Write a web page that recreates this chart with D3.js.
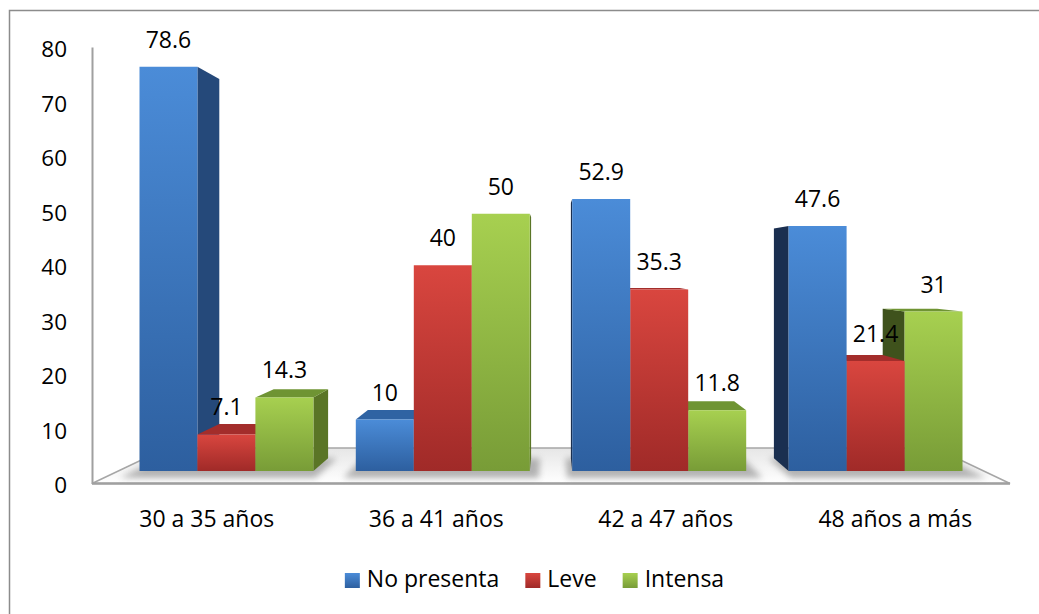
<!DOCTYPE html>
<html>
<head>
    <meta charset="utf-8">
    <title></title>
    <script src="https://cdnjs.cloudflare.com/ajax/libs/d3/7.8.5/d3.min.js"></script>
    <style>
        body { margin: 0; background: #fff; }
        text { font-family: "Open Sans", sans-serif; }
    </style>
</head>
<body>
<div id="chart"></div>
<script type="text/javascript">
    var categories = ["30 a 35 años", "36 a 41 años", "42 a 47 años", "48 años a más"];
    var seriesNames = ["No presenta", "Leve", "Intensa"];
    var noPresenta = [78.6, 10, 52.9, 47.6];
    var leve = [7.1, 40, 35.3, 21.4];
    var intensa = [14.3, 50, 11.8, 31];
    var yTicks = [0, 10, 20, 30, 40, 50, 60, 70, 80];

    var seriesValues = [noPresenta, leve, intensa];
    var colors = {
        "No presenta": { top: "#4b8cd8", bottom: "#2d5f9f", lid: "#2f63a3", right: "#25497a", left: "#1a2f50" },
        "Leve":        { top: "#d9463f", bottom: "#a02a28", lid: "#a32d2b", right: "#7e2220", left: "#661b1a" },
        "Intensa":     { top: "#a7d050", bottom: "#789c37", lid: "#6f9433", right: "#5a7526", left: "#3f521c" }
    };

    // perspective: everything is drawn in the front plane (s = 1) and pulled to the vanishing point
    var VP = { x: 551, y: 265 };
    var S_FRONT = 0.9428, S_BACK = 0.8845, S_FLOOR = 0.8375;
    function proj(X, Y, s) { return [VP.x + (X - VP.x) * s, VP.y + (Y - VP.y) * s]; }
    function poly(pts) { return pts.map(function(p){ return p[0].toFixed(1) + "," + p[1].toFixed(1); }).join(" "); }

    var svg = d3.select("#chart").append("svg")
        .attr("width", 1039)
        .attr("height", 614);

    var defs = svg.append("defs");
    seriesNames.forEach(function(name, i){
        var g = defs.append("linearGradient").attr("id", "grad" + i)
            .attr("x1", 0).attr("y1", 0).attr("x2", 0).attr("y2", 1);
        g.append("stop").attr("offset", "0%").attr("stop-color", colors[name].top);
        g.append("stop").attr("offset", "100%").attr("stop-color", colors[name].bottom);
    });
    var fg = defs.append("linearGradient").attr("id", "floorGrad")
        .attr("x1", 0).attr("y1", 0).attr("x2", 0).attr("y2", 1);
    fg.append("stop").attr("offset", "0%").attr("stop-color", "#e6e6e6");
    fg.append("stop").attr("offset", "100%").attr("stop-color", "#ffffff");
    defs.append("filter").attr("id", "blur").attr("x", "-20%").attr("y", "-50%").attr("width", "140%").attr("height", "200%")
        .append("feGaussianBlur").attr("stdDeviation", 3);

    // outer frame
    svg.append("rect")
        .attr("x", 9.5).attr("y", 10.5)
        .attr("width", 1100).attr("height", 700)
        .style("fill", "none")
        .style("stroke", "#8c8c8c")
        .style("stroke-width", 1.5);

    var x0 = d3.scaleBand().domain(categories).range([92, 1010]).paddingInner(0.196).paddingOuter(0.098);
    var x1 = d3.scaleBand().domain(seriesNames).range([0, x0.bandwidth()]);
    var y = d3.scaleLinear().domain([0, 80]).range([483.5, 47]);

    // floor
    var floorPts = [proj(92, y(0), 1), proj(1010, y(0), 1), proj(1010, y(0), S_FLOOR), proj(92, y(0), S_FLOOR)];
    svg.append("polygon")
        .attr("points", poly(floorPts))
        .style("fill", "url(#floorGrad)")
        .style("stroke", "#a6a6a6")
        .style("stroke-width", 1.5);
    svg.append("line")
        .attr("x1", 92).attr("x2", 1010)
        .attr("y1", y(0)).attr("y2", y(0))
        .style("stroke", "#a0a0a0")
        .style("stroke-width", 2.5);

    // soft shadows under each group
    categories.forEach(function(c){
        var a = x0(c) - 6, b = x0(c) + x0.bandwidth() + 10;
        svg.append("polygon")
            .attr("points", poly([proj(a, y(0), S_BACK), proj(b, y(0), S_BACK), proj(b, y(0), 0.975), proj(a, y(0), 0.975)]))
            .style("fill", "#7a7a7a")
            .style("opacity", 0.55)
            .attr("filter", "url(#blur)");
    });

    // y axis
    var axis = svg.append("g")
        .attr("transform", "translate(92,0)")
        .call(d3.axisLeft(y).tickValues(yTicks).tickSize(0).tickPadding(25));
    axis.select(".domain").style("stroke", "#a0a0a0").style("stroke-width", 2);
    axis.selectAll("text")
        .style("font-family", "'Open Sans', sans-serif")
        .style("font-size", "22.5px")
        .style("fill", "#000")
        .attr("dy", "0.42em");

    // bars
    var bars = [];
    categories.forEach(function(c, ci){
        seriesNames.forEach(function(name, si){
            var X0 = x0(c) + x1(name), X1 = X0 + x1.bandwidth();
            bars.push({ cat: c, name: name, si: si, v: seriesValues[si][ci], X0: X0, X1: X1 });
        });
    });
    bars.sort(function(a, b){
        return Math.abs((b.X0 + b.X1) / 2 - VP.x) - Math.abs((a.X0 + a.X1) / 2 - VP.x);
    });

    var barLayer = svg.append("g");
    bars.forEach(function(d){
        var yt = y(d.v), yb = y(0), col = colors[d.name];
        var g = barLayer.append("g");
        if (d.X1 < VP.x) {
            g.append("polygon")
                .attr("points", poly([proj(d.X1, yt, S_FRONT), proj(d.X1, yt, S_BACK), proj(d.X1, yb, S_BACK), proj(d.X1, yb, S_FRONT)]))
                .style("fill", col.right);
        }
        if (d.X0 > VP.x) {
            g.append("polygon")
                .attr("points", poly([proj(d.X0, yt, S_FRONT), proj(d.X0, yt, S_BACK), proj(d.X0, yb, S_BACK), proj(d.X0, yb, S_FRONT)]))
                .style("fill", col.left);
        }
        if (yt > VP.y) {
            g.append("polygon")
                .attr("points", poly([proj(d.X0, yt, S_FRONT), proj(d.X1, yt, S_FRONT), proj(d.X1, yt, S_BACK), proj(d.X0, yt, S_BACK)]))
                .style("fill", col.lid);
        }
        g.append("polygon")
            .attr("points", poly([proj(d.X0, yt, S_FRONT), proj(d.X1, yt, S_FRONT), proj(d.X1, yb, S_FRONT), proj(d.X0, yb, S_FRONT)]))
            .style("fill", "url(#grad" + d.si + ")");
    });

    // value labels
    bars.forEach(function(d){
        var p = proj((d.X0 + d.X1) / 2, y(d.v), S_FRONT);
        svg.append("text")
            .attr("x", p[0])
            .attr("y", p[1] - 19)
            .attr("text-anchor", "middle")
            .style("font-size", "23px")
            .style("fill", "#000")
            .text(d.v);
    });

    // category labels
    svg.selectAll(".cat").data(categories).enter().append("text")
        .attr("class", "cat")
        .attr("x", function(c){ return x0(c) + x0.bandwidth() / 2; })
        .attr("y", 527)
        .attr("text-anchor", "middle")
        .style("font-size", "23px")
        .style("fill", "#000")
        .text(function(c){ return c; });

    // legend
    var legend = svg.append("g");
    var lx = 0;
    seriesNames.forEach(function(name, i){
        legend.append("rect")
            .attr("x", lx).attr("y", 573)
            .attr("width", 15).attr("height", 15)
            .style("fill", "url(#grad" + i + ")");
        var t = legend.append("text")
            .attr("x", lx + 22).attr("y", 587)
            .style("font-size", "23px")
            .style("fill", "#000")
            .text(name);
        lx += 22 + t.node().getComputedTextLength() + 26;
    });
    var lw = lx - 26;
    legend.attr("transform", "translate(" + (534.5 - lw / 2) + ",0)");
</script>
</body>
</html>
